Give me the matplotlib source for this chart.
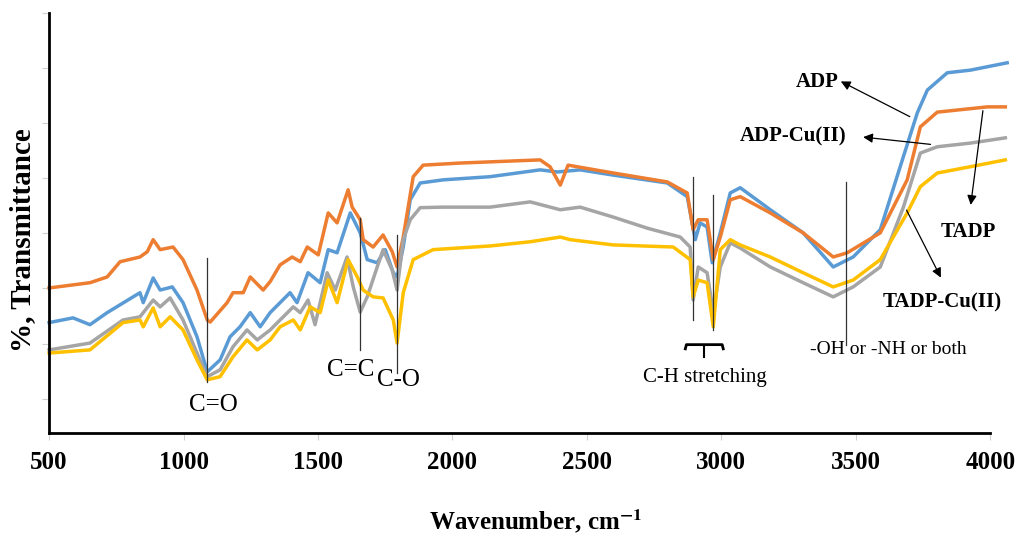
import numpy as np
import matplotlib.pyplot as plt

plt.rcParams['font.family'] = ['Liberation Serif', 'DejaVu Serif']
plt.rcParams['mathtext.fontset'] = 'stix'

adp_w = [500, 589, 652, 716, 838, 850, 887, 913, 958, 998, 1050, 1088, 1136, 1173, 1210,
         1248, 1285, 1322, 1396, 1422, 1463, 1508, 1538, 1571, 1620, 1657, 1683, 1720, 1750,
         1780, 1794, 1817, 1843, 1880, 1966, 2140, 2326, 2390, 2475, 2598, 2799, 2873, 2903,
         2921, 2947, 2966, 2996, 3033, 3070, 3182, 3304, 3416, 3490, 3591, 3665, 3729, 3766,
         3840, 3926, 4063]
adp_t = [21.0, 21.9, 20.6, 22.9, 26.7, 24.8, 29.5, 27.2, 27.8, 24.8, 18.3, 11.6, 13.9, 18.3, 20.2,
         22.9, 20.2, 22.9, 26.7, 24.8, 30.5, 28.6, 34.9, 34.3, 41.9, 38.1, 33.0, 32.4, 34.9,
         30.5, 29.7, 35.4, 44.4, 47.6, 48.2, 48.8, 50.1, 49.7, 50.1, 49.1, 47.6, 45.0, 36.8,
         40.0, 39.2, 32.4, 38.1, 45.7, 46.7, 42.5, 38.1, 31.6, 33.5, 38.7, 50.7, 61.0, 65.3,
         68.6, 69.1, 70.5]

adpcu_w = [500, 652, 716, 764, 838, 865, 887, 913, 961, 998, 1050, 1088, 1099, 1162, 1184,
           1222, 1248, 1296, 1322, 1359, 1404, 1434, 1460, 1501, 1538, 1571, 1612, 1627, 1657,
           1668, 1705, 1742, 1776, 1794, 1817, 1854, 1891, 2029, 2326, 2363, 2401, 2430, 2598,
           2799, 2873, 2895, 2914, 2947, 2970, 2996, 3033, 3070, 3182, 3304, 3416, 3468, 3591,
           3691, 3740, 3803, 3989, 4056]
adpcu_t = [27.6, 28.6, 29.7, 32.6, 33.5, 34.5, 36.8, 34.9, 35.4, 33.0, 27.2, 21.5, 21.1, 24.8, 26.7,
           26.7, 29.7, 27.2, 28.8, 32.0, 33.5, 32.6, 35.4, 33.9, 41.9, 40.0, 46.3, 43.0, 40.6,
           36.8, 35.4, 37.7, 34.5, 31.6, 37.3, 48.8, 51.0, 51.4, 52.0, 50.7, 47.2, 51.0, 49.5,
           47.8, 45.7, 38.7, 40.6, 40.6, 33.0, 37.3, 44.4, 45.0, 41.9, 38.1, 33.5, 34.3, 38.1,
           48.2, 58.3, 61.1, 62.1, 62.1]

tadp_w = [500, 652, 775, 838, 887, 913, 950, 998, 1050, 1088, 1136, 1184, 1236, 1274, 1322,
          1359, 1408, 1434, 1463, 1489, 1534, 1564, 1608, 1631, 1657, 1683, 1713, 1742, 1776,
          1794, 1817, 1843, 1880, 1966, 2140, 2289, 2401, 2475, 2598, 2724, 2847, 2884, 2895,
          2914, 2947, 2970, 2996, 3033, 3070, 3182, 3304, 3416, 3490, 3591, 3677, 3740, 3803,
          3926, 4056]
tadp_t = [15.8, 17.1, 21.5, 22.1, 25.3, 24.0, 25.7, 21.5, 15.2, 10.7, 12.0, 16.4, 19.6, 17.7, 19.6,
          21.5, 24.0, 22.9, 25.3, 20.6, 30.5, 27.2, 33.5, 27.8, 23.0, 25.9, 30.5, 34.9, 31.0,
          27.2, 36.8, 40.6, 42.9, 43.0, 43.0, 44.0, 42.5, 43.0, 41.1, 39.0, 37.3, 35.4, 25.3,
          31.6, 30.5, 22.9, 31.6, 36.2, 35.2, 31.6, 28.6, 25.9, 27.8, 31.6, 43.0, 53.3, 54.5,
          55.2, 56.2]

tadpcu_w = [500, 652, 775, 838, 850, 887, 913, 950, 998, 1050, 1088, 1136, 1184, 1236, 1274,
            1322, 1359, 1408, 1434, 1471, 1508, 1538, 1571, 1612, 1646, 1668, 1705, 1742, 1780,
            1794, 1817, 1854, 1928, 2140, 2289, 2401, 2438, 2598, 2821, 2884, 2895, 2914, 2947,
            2970, 2996, 3033, 3070, 3182, 3304, 3416, 3490, 3591, 3691, 3740, 3803, 3926, 4056]
tadpcu_t = [15.2, 15.8, 21.0, 21.5, 20.2, 23.8, 20.2, 22.1, 19.6, 13.9, 10.1, 10.7, 14.5, 17.7, 15.8,
            17.7, 20.2, 21.5, 19.6, 24.0, 22.9, 29.1, 24.8, 33.0, 29.7, 27.2, 25.9, 25.7, 21.5,
            17.1, 26.7, 33.0, 34.9, 35.6, 36.4, 37.3, 36.8, 35.8, 35.4, 33.0, 25.9, 29.1, 28.6,
            20.2, 34.9, 36.8, 35.8, 33.5, 30.5, 27.8, 29.1, 33.0, 41.9, 46.9, 49.5, 50.7, 52.0]

xticks = [500, 1000, 1500, 2000, 2500, 3000, 3500, 4000]

fig = plt.figure(figsize=(10.23, 5.39), dpi=100)
ax = fig.add_axes([0.048, 0.197, 0.920, 0.779])

ax.plot(adp_w, adp_t, color='#5B9BD5', lw=2.5, clip_on=False)
ax.plot(adpcu_w, adpcu_t, color='#ED7D31', lw=2.5, clip_on=False)
ax.plot(tadp_w, tadp_t, color='#A5A5A5', lw=2.5, clip_on=False)
ax.plot(tadpcu_w, tadpcu_t, color='#FFC000', lw=2.5, clip_on=False)

ax.set_xlim(500, 4000)
ax.set_ylim(0, 80)
ax.set_xticks(xticks)
ax.set_yticks(np.arange(80, 0, -10.5))
ax.set_yticklabels([])
ax.tick_params(axis='both', colors='#d0d0d0', length=5, width=0.8)
for lab in ax.get_xticklabels():
    lab.set_color('black')
    lab.set_fontweight('bold')
    lab.set_fontsize(18)
ax.tick_params(axis='x', pad=8)

for s in ['top', 'right']:
    ax.spines[s].set_visible(False)
for s in ['left', 'bottom']:
    ax.spines[s].set_linewidth(2)
    ax.spines[s].set_color('black')

ax.set_xlabel('Wavenumber, cm$^{\\mathbf{-1}}$', fontsize=18, fontweight='bold')
ax.xaxis.set_label_coords(0.5175, -0.18)
ax.set_ylabel('%, Transmittance', fontsize=21, fontweight='bold')
ax.yaxis.set_label_coords(-0.014, 0.46)

# band marker lines
lc = '#333333'
ax.plot([1088, 1088], [9.7, 33.3], color=lc, lw=0.9)
ax.plot([1657, 1657], [15.8, 41.0], color=lc, lw=0.9)
ax.plot([1794, 1794], [11.4, 37.7], color=lc, lw=0.9)
ax.plot([2895, 2895], [21.5, 48.8], color=lc, lw=0.9)
ax.plot([2970, 2970], [19.6, 45.3], color=lc, lw=0.9)
ax.plot([3464, 3464], [16.8, 47.8], color=lc, lw=0.9)

# C-H bracket
ax.plot([2866, 2870, 3003, 3007], [16.0, 16.8, 16.8, 16.0], color='black', lw=2)
ax.plot([2936, 2936], [16.8, 14.5], color='black', lw=1.5)

ax.text(1110, 5.3, 'C=O', fontsize=18, ha='center', va='center')
ax.text(1620, 12.0, 'C=C', fontsize=18, ha='center', va='center')
ax.text(1800, 10.1, 'C-O', fontsize=18, ha='center', va='center')
ax.text(2940, 10.5, 'C-H stretching', fontsize=15, ha='center', va='center')
ax.text(3620, 15.8, '-OH or -NH or both', fontsize=14, ha='center', va='center')

# series labels with arrows
ax.text(3357, 66.9, 'ADP', fontsize=15, fontweight='bold', ha='center', va='center')
ax.text(3267, 56.4, 'ADP-Cu(II)', fontsize=15, fontweight='bold', ha='center', va='center')
ax.text(3918, 38.3, 'TADP', fontsize=15, fontweight='bold', ha='center', va='center')
ax.text(3821, 24.8, 'TADP-Cu(II)', fontsize=15, fontweight='bold', ha='center', va='center')

arw = dict(arrowstyle='-|>', color='black', lw=0.9, mutation_scale=14)
ax.annotate('', xy=(3435, 67.2), xytext=(3710, 60.0), arrowprops=arw, annotation_clip=False)
ax.annotate('', xy=(3517, 56.4), xytext=(3788, 54.9), arrowprops=arw, annotation_clip=False)
ax.annotate('', xy=(3926, 42.9), xytext=(3974, 61.9), arrowprops=arw, annotation_clip=False)
ax.annotate('', xy=(3821, 29.1), xytext=(3684, 42.9), arrowprops=arw, annotation_clip=False)

fig.savefig('out.png', dpi=100)
